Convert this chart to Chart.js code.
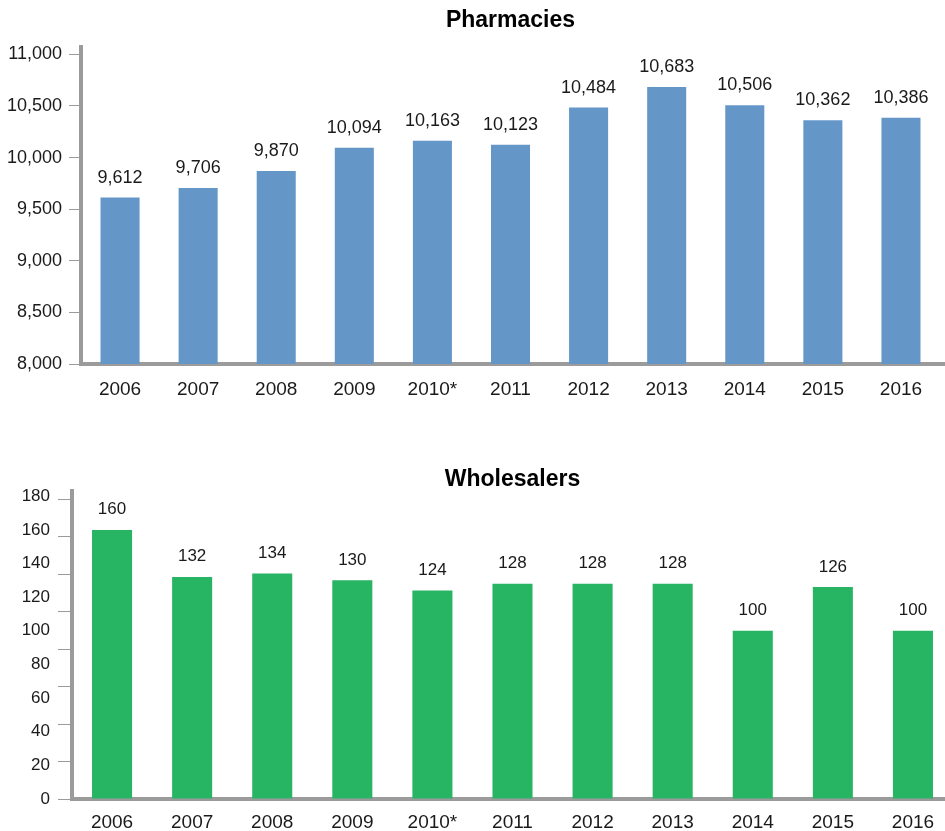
<!DOCTYPE html>
<html><head><meta charset="utf-8">
<script src="https://cdn.jsdelivr.net/npm/chart.js@4.4.0/dist/chart.umd.min.js"></script>
<style>
html,body{margin:0;padding:0;background:#fff;overflow:hidden;width:945px;height:831px;position:relative;}
#w1{position:absolute;left:0;top:0;width:945px;height:410px;}
#w2{position:absolute;left:0;top:440px;width:960px;height:391px;}
</style></head><body>
<div id="w1"><canvas id="c1"></canvas></div>
<div id="w2"><canvas id="c2"></canvas></div>
<script>
const years = ['2006','2007','2008','2009','2010*','2011','2012','2013','2014','2015','2016'];
const pharmacies = [9612, 9706, 9870, 10094, 10163, 10123, 10484, 10683, 10506, 10362, 10386];
const wholesalers = [160, 132, 134, 130, 124, 128, 128, 128, 100, 126, 100];
const pharmacyTickLabels = [8000, 8500, 9000, 9500, 10000, 10500, 11000];
const wholesalerTickLabels = [0, 20, 40, 60, 80, 100, 120, 140, 160, 180];
const wholesalerMarkStep = 22.27;   // tick marks in the original are not aligned with labels
const wholesalerMarkCount = 9;

const FAMILY = "'Liberation Sans', Arial, Helvetica, sans-serif";
const AXIS = '#9b9b9b';
const TEXT = '#1a1a1a';

Chart.defaults.font.family = FAMILY;
Chart.defaults.color = TEXT;

const valueLabels = {
  id: 'valueLabels',
  afterDatasetsDraw(chart, args, opts) {
    const ctx = chart.ctx;
    const meta = chart.getDatasetMeta(0);
    const data = chart.data.datasets[0].data;
    ctx.save();
    ctx.font = opts.size + 'px ' + FAMILY;
    ctx.fillStyle = TEXT;
    ctx.textAlign = 'center';
    ctx.textBaseline = 'alphabetic';
    meta.data.forEach((bar, i) => {
      ctx.fillText(data[i].toLocaleString('en-US'), bar.x, bar.y - opts.offset);
    });
    ctx.restore();
  }
};

// the baseline in the original runs on to the right edge of the figure
const axisRunout = {
  id: 'axisRunout',
  afterDraw(chart) {
    const ctx = chart.ctx, a = chart.chartArea;
    ctx.save();
    ctx.strokeStyle = AXIS;
    ctx.lineWidth = 4;
    ctx.beginPath();
    ctx.moveTo(a.right - 1, a.bottom);
    ctx.lineTo(chart.width, a.bottom);
    ctx.stroke();
    ctx.restore();
  }
};

new Chart(document.getElementById('c1'), {
  type: 'bar',
  data: { labels: years, datasets: [{ data: pharmacies, backgroundColor: '#6497c8', borderWidth: 0, categoryPercentage: 1, barPercentage: 0.5 }] },
  plugins: [valueLabels, axisRunout],
  options: {
    responsive: true, maintainAspectRatio: false, animation: false,
    layout: { padding: { left: 0, right: 5, top: 0, bottom: 0 } },
    plugins: {
      legend: { display: false }, tooltip: { enabled: false },
      title: { display: true, text: 'Pharmacies', fullSize: false, color: '#000',
        font: { size: 23, weight: 'bold', lineHeight: 1.0 }, padding: { top: 9, bottom: 15 } },
      valueLabels: { size: 18, offset: 15 }
    },
    scales: {
      x: {
        z: 1,
        afterFit: s => { s.height = 46; },
        border: { display: true, color: AXIS, width: 4 },
        grid: { display: true, drawOnChartArea: false, drawTicks: false },
        ticks: { padding: 14, font: { size: 19 }, color: TEXT, maxRotation: 0, autoSkip: false }
      },
      y: {
        min: 8000, max: 11071,
        afterBuildTicks: s => { s.ticks = pharmacyTickLabels.map(v => ({ value: v })); },
        afterFit: s => { s.width = 81; },
        border: { display: true, color: AXIS, width: 4 },
        grid: { drawOnChartArea: false, drawTicks: true, tickLength: 12, tickColor: AXIS, tickWidth: 1 },
        ticks: { padding: 7, font: { size: 18 }, color: TEXT, autoSkip: false,
          callback: v => Number(v).toLocaleString('en-US') }
      }
    }
  }
});

new Chart(document.getElementById('c2'), {
  type: 'bar',
  data: { labels: years, datasets: [{ data: wholesalers, backgroundColor: '#27b564', borderWidth: 0, categoryPercentage: 1, barPercentage: 0.5 }] },
  plugins: [valueLabels],
  options: {
    responsive: true, maintainAspectRatio: false, animation: false,
    layout: { padding: { left: 0, right: 7, top: 0, bottom: 0 } },
    plugins: {
      legend: { display: false }, tooltip: { enabled: false },
      title: { display: true, text: 'Wholesalers', fullSize: false, color: '#000',
        font: { size: 23, weight: 'bold', lineHeight: 1.0 }, padding: { top: 27.7, bottom: 0 } },
      valueLabels: { size: 17, offset: 15.5 }
    },
    scales: {
      x: {
        z: 1,
        afterFit: s => { s.height = 32; },
        border: { display: true, color: AXIS, width: 4 },
        grid: { display: true, drawOnChartArea: false, drawTicks: false },
        ticks: { padding: 12, font: { size: 19 }, color: TEXT, maxRotation: 0, autoSkip: false }
      },
      y: {
        min: 0, max: 183.3,
        afterBuildTicks: s => {
          const t = wholesalerTickLabels.map(v => ({ value: v }));
          for (let k = 0; k < wholesalerMarkCount; k++) t.push({ value: k * wholesalerMarkStep, mark: true });
          t.sort((a, b) => a.value - b.value);
          s.ticks = t;
        },
        afterFit: s => { s.width = 72; },
        border: { display: true, color: AXIS, width: 4 },
        grid: { drawOnChartArea: false, drawTicks: true, tickLength: 14, tickWidth: 1,
          tickColor: c => (c.tick && c.tick.mark) ? AXIS : 'rgba(0,0,0,0)' },
        ticks: { padding: 8, font: { size: 17 }, color: TEXT, autoSkip: false,
          callback: function (v, i, ticks) { return ticks[i] && ticks[i].mark ? '' : String(v); } }
      }
    }
  }
});
</script>
</body></html>
